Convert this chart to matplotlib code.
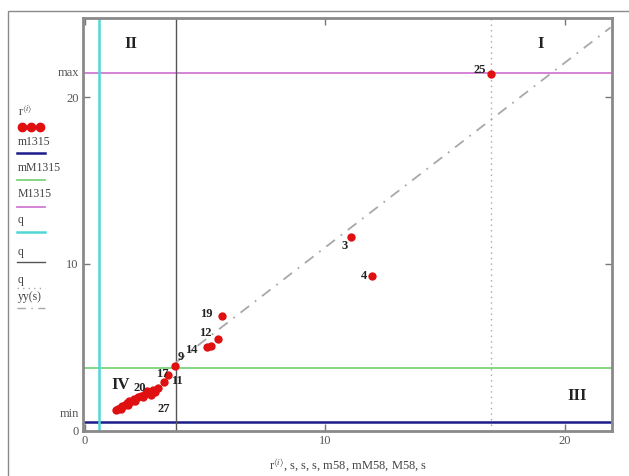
import matplotlib
matplotlib.use("Agg")
import matplotlib.pyplot as plt
from matplotlib.lines import Line2D
from matplotlib.patches import Rectangle

plt.rcParams['font.family'] = ['Liberation Serif', 'DejaVu Serif']
plt.rcParams['mathtext.fontset'] = 'stix'

# ---- data ----
rx = [16.9, 11.1, 11.95, 3.75, 3.46, 5.55, 5.1, 5.25, 5.7,
      3.3, 3.05, 2.85, 2.65, 2.5, 2.35, 2.2, 2.05, 1.95, 1.85, 1.75,
      1.65, 1.55, 1.45, 1.38, 1.3, 2.9, 2.75, 2.4, 2.1, 1.8, 1.5, 2.6]
ry = [21.4, 11.6, 9.3, 3.9, 3.33, 5.5, 5.0, 5.1, 6.9,
      2.9, 2.55, 2.45, 2.3, 2.2, 2.1, 2.0, 1.9, 1.8, 1.75, 1.65,
      1.55, 1.45, 1.38, 1.3, 1.22, 2.3, 2.15, 2.0, 1.8, 1.55, 1.3, 2.35]
point_labels = ["25", "3", "4", "9", "11", "12", "14", "", "19",
                "17", "", "20", "", "", "", "", "", "", "", "",
                "", "", "", "", "", "27", "", "", "", "", "", ""]
y_min = 0.5        # m1315
y_mid = 3.75       # mM1315
y_max = 21.45      # M1315
q_cyan = 0.6
q_dark = 3.8
q_dot = 16.9
yy_s = [3.8, 21.9]
yy_v = [4.1, 24.2]
quadrants = ["I", "II", "III", "IV"]
quad_x = [19.0, 1.9, 20.5, 1.5]
quad_y = [23.2, 23.2, 2.1, 2.75]

W, H = 629, 476
fig = plt.figure(figsize=(W / 100, H / 100), dpi=100)
ax = fig.add_axes([83 / W, 1 - 431 / H, (612 - 83) / W, (431 - 18) / H])
ax.set_xlim(-0.083, 21.96)
ax.set_ylim(-0.03, 24.77)

# reference lines
ax.axhline(y_min, color='#1c1c8a', lw=1.8, zorder=2)
ax.axhline(y_mid, color='#6fcf6f', lw=1.2, zorder=2)
ax.axhline(y_max, color='#d27ad2', lw=1.3, zorder=2)
ax.axvline(q_cyan, color='#4fd6d6', lw=1.8, zorder=2)
ax.axvline(q_dark, color='#555555', lw=1.0, zorder=2)
ax.axvline(q_dot, color='#a8a8a8', lw=1.0, ls=(0, (1, 3)), zorder=2)
ax.plot(yy_s, yy_v, color='#a8a8a8', lw=1.3, ls=(0, (6, 4, 1, 4)), zorder=2)

ax.scatter(rx, ry, s=36, color='#e01010', zorder=4, linewidths=0)

offsets = {"25": (-12, 3), "3": (-7, -6), "4": (-8, 0), "9": (2, 6),
           "11": (2, -4), "12": (-14, 4), "14": (-16, -2), "19": (-16, 1),
           "17": (-6, 6), "20": (-14, 1), "27": (2, -12)}
for x, y, lab in zip(rx, ry, point_labels):
    if lab:
        dx, dy = offsets[lab]
        ax.annotate(lab, (x, y), xytext=(dx, dy), textcoords='offset points',
                    fontsize=9, fontweight='bold', color='#222222',
                    ha='left', va='center', zorder=5)

for lab, x, y in zip(quadrants, quad_x, quad_y):
    ax.text(x, y, lab, fontsize=12, fontweight='bold', color='#222222',
            ha='center', va='center')

# axes styling
for sp in ax.spines.values():
    sp.set_color('#8a8a8a')
    sp.set_linewidth(2.0)
ax.set_xticks([0, 10, 20])
ax.set_yticks([0, 10, 20])
ax.tick_params(direction='in', length=5, width=1, color='#777777',
               labelsize=9, labelcolor='#555555', top=True, right=True,
               labeltop=False, labelright=False, pad=3)
ax.text(-0.25, y_max, "max", ha='right', va='center', fontsize=9, color='#555555')
ax.text(-0.25, y_min + 0.15, "min", ha='right', va='bottom', fontsize=9, color='#555555')

fig.text(348 / W, 1 - 465 / H,
         r"r$^{\langle i\rangle}$, s, s, s, m58, mM58, M58, s",
         ha='center', va='center', fontsize=9, color='#444444')

# left legend
legend = [("r$^{\\langle i\\rangle}$", None),
          ("m1315", dict(color='#1c1c8a', lw=1.8)),
          ("mM1315", dict(color='#6fcf6f', lw=1.2)),
          ("M1315", dict(color='#d27ad2', lw=1.3)),
          ("q", dict(color='#4fd6d6', lw=1.8)),
          ("q", dict(color='#555555', lw=1.0)),
          ("q", dict(color='#a8a8a8', lw=1.0, ls=(0, (1, 3)))),
          ("yy(s)", dict(color='#a8a8a8', lw=1.0, ls=(0, (6, 4, 1, 4))))]
text_y = [112, 142, 168, 194, 220, 252, 280, 297]
line_y = [127, 153, 180, 207, 232, 262, 288, 308]
for (lab, style), ty, ly in zip(legend, text_y, line_y):
    fig.text(18 / W, 1 - ty / H, lab, ha='left', va='center', fontsize=8.5,
             color='#444444')
    if style is None:
        for k in range(3):
            fig.lines.append(Line2D([(22 + 9 * k) / W], [1 - ly / H], marker='o',
                                    ms=6, color='#e01010', ls='none',
                                    transform=fig.transFigure))
    else:
        fig.lines.append(Line2D([17 / W, 45 / W], [1 - ly / H] * 2,
                                transform=fig.transFigure, **style))

# outer border
fig.patches.append(Rectangle((8 / W, -0.1), 1.2, 1 - 11 / H + 0.1,
                             transform=fig.transFigure, fill=False,
                             edgecolor='#8a8a8a', lw=1.0))

fig.savefig("out.png", dpi=100)
